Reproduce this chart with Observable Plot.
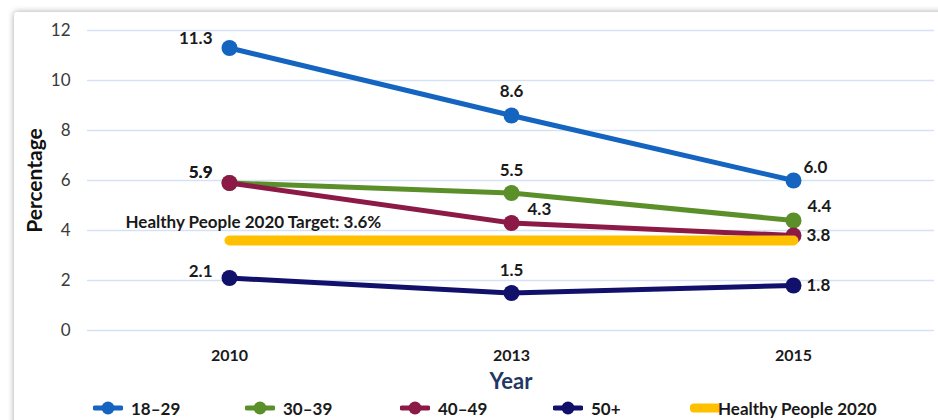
<!DOCTYPE html>
<html><head><meta charset="utf-8">
<script src="https://cdn.jsdelivr.net/npm/d3@7"></script>
<script src="https://cdn.jsdelivr.net/npm/@observablehq/plot@0.6"></script>
<style>
body{margin:0;background:#fff;font-family:Lato,"Open Sans",sans-serif;}
#wrap{position:relative;width:938px;height:420px;overflow:hidden;background:#fff}
#card{position:absolute;left:14px;top:12px;width:960px;height:440px;background:#fff;box-shadow:0 0 6px rgba(0,0,0,0.35);border-radius:3px}
#chart{position:absolute;left:0;top:0}
#legend{position:absolute;top:398px;left:0;width:938px;height:20px}
.item{position:absolute;top:0;height:20px;display:flex;align-items:center;font-weight:bold;font-size:17px;color:#1a1a1a;white-space:nowrap}
.item svg{margin-right:8px}
</style></head>
<body><div id="wrap"><div id="card"></div><div id="chart"></div><div id="legend"></div></div>
<script>
// ---- data ----
const years = ["2010", "2013", "2015"];
const seriesNames = ["18–29", "30–39", "40–49", "50+"];
const age18_29 = [11.3, 8.6, 6.0];
const age30_39 = [5.9, 5.5, 4.4];
const age40_49 = [5.9, 4.3, 3.8];
const age50plus = [2.1, 1.5, 1.8];
const targetValue = 3.6;
const targetName = "Healthy People 2020";
const targetLabel = "Healthy People 2020 Target: 3.6%";
const yTicks = [0, 2, 4, 6, 8, 10, 12];
const xTitle = "Year";
const yTitle = "Percentage";

// ---- styles ----
const colors = ["#1565c0", "#5b8f29", "#8c1a46", "#11116b"];
const targetColor = "#ffc000";
// label placement per series per year: [dx, dy, anchor]
const labelPlace = [
  [[-17, -9, "end"], [0, -24, "middle"], [10, -13, "start"]],
  [[-17, -10, "end"], [0, -22, "middle"], [14, -14, "start"]],
  [[-17, -10, "end"], [16, -13, "start"], [13, 0, "start"]],
  [[-17, -6, "end"], [0, -22, "middle"], [13, 0, "start"]]
];

const allSeries = [age18_29, age30_39, age40_49, age50plus];
const long = [];
allSeries.forEach((vals, s) => vals.forEach((v, i) => long.push({series: seriesNames[s], s, i, year: years[i], value: v})));
const targetData = [years[0], years[years.length - 1]].map(y => ({year: y, value: targetValue}));

const font = "Lato, 'Open Sans', sans-serif";
const marks = [
  Plot.gridY(yTicks, {stroke: "#d5e1f4", strokeOpacity: 1, strokeWidth: 1.3}),
  Plot.axisY(yTicks, {tickSize: 0, tickPadding: 17, fontSize: 17, fill: "#3a3a3a", label: null}),
  Plot.axisX({tickSize: 0, tickPadding: 19, fontSize: 16, fontWeight: "bold", fill: "#1a1a1a", label: null}),
  Plot.text([yTitle], {frameAnchor: "left", textAnchor: "middle", dx: -52, rotate: -90, fontSize: 21, fontWeight: "bold", fill: "#111", text: d => d}),
  Plot.text([xTitle], {frameAnchor: "bottom", textAnchor: "middle", dy: 58, fontSize: 22, fontWeight: "bold", fill: "#1f3864", text: d => d})
];
seriesNames.forEach((name, s) => {
  const d = long.filter(r => r.s === s);
  marks.push(Plot.line(d, {x: "year", y: "value", stroke: colors[s], strokeWidth: 5}));
  marks.push(Plot.dot(d, {x: "year", y: "value", r: 8, fill: colors[s], stroke: "none"}));
});
marks.push(Plot.line(targetData, {x: "year", y: "value", stroke: targetColor, strokeWidth: 10, strokeLinecap: "round"}));
marks.push(Plot.text([targetData[0]], {x: "year", y: "value", text: () => targetLabel, dx: -104, dy: -18, textAnchor: "start", fontSize: 17, fontWeight: "bold", fill: "#1a1a1a"}));
long.forEach(r => {
  const [dx, dy, anchor] = labelPlace[r.s][r.i];
  marks.push(Plot.text([r], {x: "year", y: "value", text: d => d.value.toFixed(1), dx, dy, textAnchor: anchor, fontSize: 17, fontWeight: "bold", fill: "#1a1a1a"}));
});

const chart = Plot.plot({
  width: 938, height: 395,
  marginLeft: 87, marginRight: 4, marginTop: 30, marginBottom: 65,
  x: {type: "point", domain: years, padding: 0.5, label: null, axis: null},
  y: {domain: [0, 12], label: null, axis: null},
  style: {fontFamily: font, background: "transparent", overflow: "visible"},
  marks
});
document.getElementById("chart").appendChild(chart);

// ---- legend ----
const legend = document.getElementById("legend");
const legendX = [93, 245, 400, 553, 690];
seriesNames.forEach((name, s) => {
  const el = document.createElement("div");
  el.className = "item";
  el.style.left = legendX[s] + "px";
  el.innerHTML = `<svg width="30" height="14"><line x1="2" x2="28" y1="7" y2="7" stroke="${colors[s]}" stroke-width="5" stroke-linecap="round"/><circle cx="15" cy="7" r="6.5" fill="${colors[s]}"/></svg>${name}`;
  legend.appendChild(el);
});
const tEl = document.createElement("div");
tEl.className = "item";
tEl.style.left = legendX[4] + "px";
tEl.innerHTML = `<svg width="30" height="12" style="margin-right:-2px"><line x1="4" x2="30" y1="6" y2="6" stroke="${targetColor}" stroke-width="9" stroke-linecap="round"/></svg>${targetName}`;
legend.appendChild(tEl);
</script>
</body></html>
